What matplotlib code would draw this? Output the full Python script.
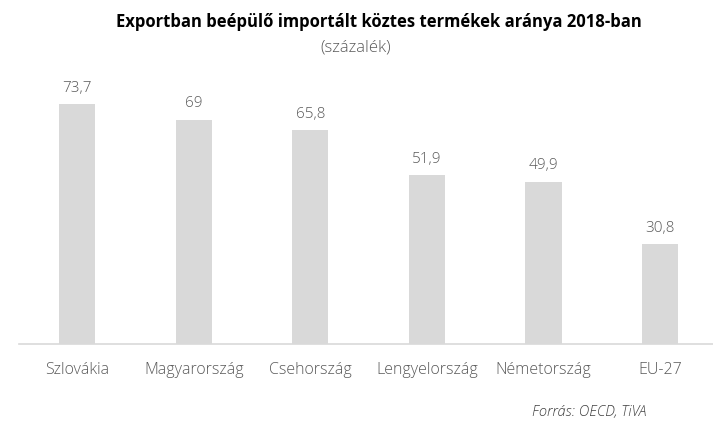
import matplotlib
matplotlib.use("Agg")
import matplotlib.pyplot as plt

categories = ["Szlovákia", "Magyarország", "Csehország", "Lengyelország", "Németország", "EU-27"]
values = [73.7, 69, 65.8, 51.9, 49.9, 30.8]
value_labels = ["73,7", "69", "65,8", "51,9", "49,9", "30,8"]

plt.rcParams['font.family'] = ['Open Sans', 'DejaVu Sans']

W, H = 713, 423
fig = plt.figure(figsize=(W/100, H/100), dpi=100)
left_px, right_px = 19, 713
bottom_px, top_px = 344, 84
ax = fig.add_axes([left_px/W, 1 - bottom_px/H, (right_px-left_px)/W, (bottom_px-top_px)/H])

x = list(range(len(categories)))
ax.bar(x, values, width=0.31, color="#d9d9d9")
ax.set_xlim(-0.5, 5 + (713-660)/116.5)
ax.set_ylim(0, 80)
for xi, v, lab in zip(x, values, value_labels):
    ax.annotate(lab, (xi, v), xytext=(0, 6), textcoords="offset points",
                ha="center", va="bottom", fontsize=11, color="#595959", fontweight="light")
ax.set_xticks(x)
ax.set_xticklabels(categories, fontsize=11.5, color="#595959", fontweight="light")
ax.tick_params(axis="x", length=0, pad=13)
ax.set_yticks([])
for s in ["top", "right", "left"]:
    ax.spines[s].set_visible(False)
ax.spines["bottom"].set_color("#d9d9d9")
ax.spines["bottom"].set_linewidth(1.2)

fig.text(379/W, 1 - 22/H, "Exportban beépülő importált köztes termékek aránya 2018-ban",
         ha="center", va="center", fontsize=12, fontweight="bold", color="#000000")
fig.text(356/W, 1 - 47/H, "(százalék)", ha="center", va="center", fontsize=12, color="#595959",
         fontweight="light")
fig.text(646/W, 1 - 412/H, "Forrás: OECD, TiVA", ha="right", va="center",
         fontsize=10.5, style="italic", color="#404040", fontweight="light")

fig.savefig("out.png", dpi=100, facecolor="white")
